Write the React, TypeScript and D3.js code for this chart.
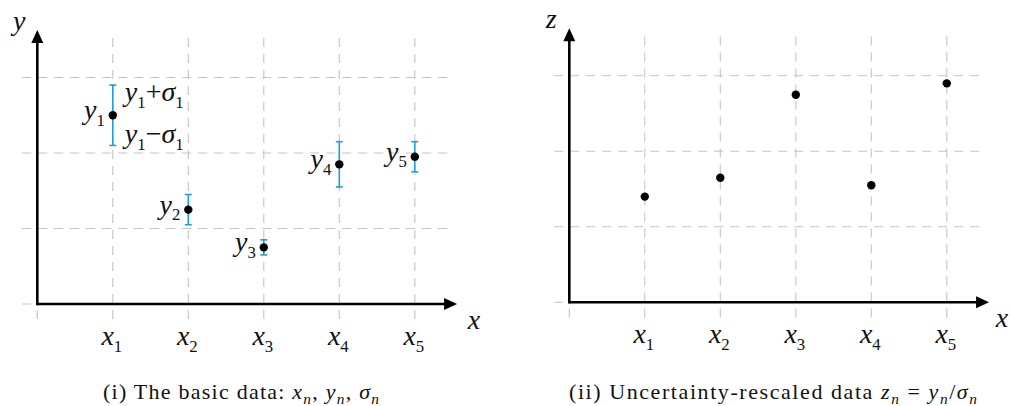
import React from 'react';
import * as d3 from 'd3';

// ---- data ----
const xIndex = [1, 2, 3, 4, 5];
const yValues = [2.5, 1.25, 0.75, 1.85, 1.95];
const sigmaValues = [0.4, 0.2, 0.1, 0.3, 0.2];
const zValues = [1.4, 1.65, 2.75, 1.55, 2.9];
const gridXs = [0, 1, 2, 3, 4, 5];
const gridYs = [0, 1, 2, 3];
const tickLabels = ['1', '2', '3', '4', '5'];

const UNIT = 75.5;
const MATH = "Liberation Serif";
const GRID = '#c4c4c4';
const BLUE = '#1ea0dc';
const LABEL = 28;

type Seg = [string, string];

function MathText({ x, y, anchor = 'start', size = LABEL, segs, subRatio = 0.6, textLength }: any) {
  let prev = 0;
  return (
    <text x={x} y={y} textAnchor={anchor} fontSize={size} fontFamily={MATH} fill="#111"
      textLength={textLength} lengthAdjust={textLength ? 'spacing' : undefined}>
      {segs.map(([t, k]: Seg, i: number) => {
        const sub = k.startsWith('s');
        const ital = k === 'i' || k === 'si';
        const shift = sub ? size * 0.24 : 0;
        const dy = shift - prev;
        prev = shift;
        return (
          <tspan key={i} dy={dy} fontFamily={MATH} fontStyle={ital ? 'italic' : 'normal'} fontSize={sub ? size * subRatio : size}>
            {t}
          </tspan>
        );
      })}
    </text>
  );
}

function Panel({ ox, oy, axisLabel, points, errors, xLabelDx }: any) {
  const xs = d3.scaleLinear().domain([0, 1]).range([ox, ox + UNIT]);
  const ys = d3.scaleLinear().domain([0, 1]).range([oy, oy - UNIT]);
  const xMaxGrid = 5.5, xMinGrid = -0.2, yMaxGrid = 3.6, yMinGrid = -0.2;
  const xArrow = 5.56, yArrow = 3.63;
  const ah = 13, aw = 6;
  return (
    <g>
      {gridYs.map((g) => (
        <line key={'h' + g} x1={xs(xMinGrid)} x2={xs(xMaxGrid)} y1={ys(g)} y2={ys(g)} stroke={GRID} strokeWidth={1.1} strokeDasharray="9,7" />
      ))}
      {gridXs.map((g) => (
        <line key={'v' + g} x1={xs(g)} x2={xs(g)} y1={ys(yMinGrid)} y2={ys(yMaxGrid)} stroke={GRID} strokeWidth={1.1} strokeDasharray="9,7" />
      ))}
      <line x1={xs(0)} x2={xs(xArrow) - ah + 1} y1={ys(0)} y2={ys(0)} stroke="#000" strokeWidth={2.6} />
      <line x1={xs(0)} x2={xs(0)} y1={ys(0) + 1.3} y2={ys(yArrow) + ah - 1} stroke="#000" strokeWidth={2.6} />
      <path d={`M${xs(xArrow)},${ys(0)} L${xs(xArrow) - ah},${ys(0) - aw} L${xs(xArrow) - ah},${ys(0) + aw} Z`} fill="#000" />
      <path d={`M${xs(0)},${ys(yArrow)} L${xs(0) - aw},${ys(yArrow) + ah} L${xs(0) + aw},${ys(yArrow) + ah} Z`} fill="#000" />
      <MathText x={xs(0) - 18} y={ys(yArrow)} anchor="middle" segs={[[axisLabel, 'i']]} />
      <MathText x={xs(xArrow) + xLabelDx} y={ys(0) + 25} anchor="middle" segs={[['x', 'i']]} />
      {xIndex.map((xi, i) => (
        <MathText key={'t' + i} x={xs(xi) - 1} y={ys(0) + 41} anchor="middle" segs={[['x', 'i'], [tickLabels[i], 's']]} />
      ))}
      {errors &&
        xIndex.map((xi, i) => {
          const top = ys(points[i] + errors[i]);
          const bot = ys(points[i] - errors[i]);
          return (
            <g key={'e' + i} stroke={BLUE} strokeWidth={1.6}>
              <line x1={xs(xi)} x2={xs(xi)} y1={top} y2={bot} />
              <line x1={xs(xi) - 3.5} x2={xs(xi) + 3.5} y1={top} y2={top} />
              <line x1={xs(xi) - 3.5} x2={xs(xi) + 3.5} y1={bot} y2={bot} />
            </g>
          );
        })}
      {xIndex.map((xi, i) => (
        <circle key={'p' + i} cx={xs(xi)} cy={ys(points[i])} r={4.2} fill="#000" />
      ))}
      {errors &&
        xIndex.map((xi, i) => (
          <MathText key={'l' + i} x={xs(xi) - 8} y={ys(points[i]) + 4} anchor="end" segs={[['y', 'i'], [tickLabels[i], 's']]} />
        ))}
      {errors && (
        <g>
          <MathText x={xs(1) + 12} y={ys(points[0] + errors[0]) + 16} segs={[['y', 'i'], ['1', 's'], ['+', 'r'], ['σ', 'i'], ['1', 's']]} />
          <MathText x={xs(1) + 12} y={ys(points[0] - errors[0]) - 2} segs={[['y', 'i'], ['1', 's'], ['−', 'r'], ['σ', 'i'], ['1', 's']]} />
        </g>
      )}
    </g>
  );
}

export default function App() {
  return (
    <svg width={1010} height={406} style={{ position: 'absolute', left: 0, top: 0 }}>
      <rect width={1010} height={406} fill="#fff" />
      <Panel ox={37.3} oy={304} axisLabel="y" points={yValues} errors={sigmaValues} xLabelDx={17} />
      <Panel ox={569.3} oy={302.3} axisLabel="z" points={zValues} errors={null} xLabelDx={13} />
      <MathText x={241} y={399} anchor="middle" size={22} subRatio={0.7} textLength={276}
        segs={[['(i) The basic data: ', 'r'], ['x', 'i'], ['n', 'si'], [', ', 'r'], ['y', 'i'], ['n', 'si'], [', ', 'r'], ['σ', 'i'], ['n', 'si']]} />
      <MathText x={773} y={399} anchor="middle" size={22} subRatio={0.7} textLength={408}
        segs={[['(ii) Uncertainty-rescaled data ', 'r'], ['z', 'i'], ['n', 'si'], [' = ', 'r'], ['y', 'i'], ['n', 'si'], ['/', 'r'], ['σ', 'i'], ['n', 'si']]} />
    </svg>
  );
}
